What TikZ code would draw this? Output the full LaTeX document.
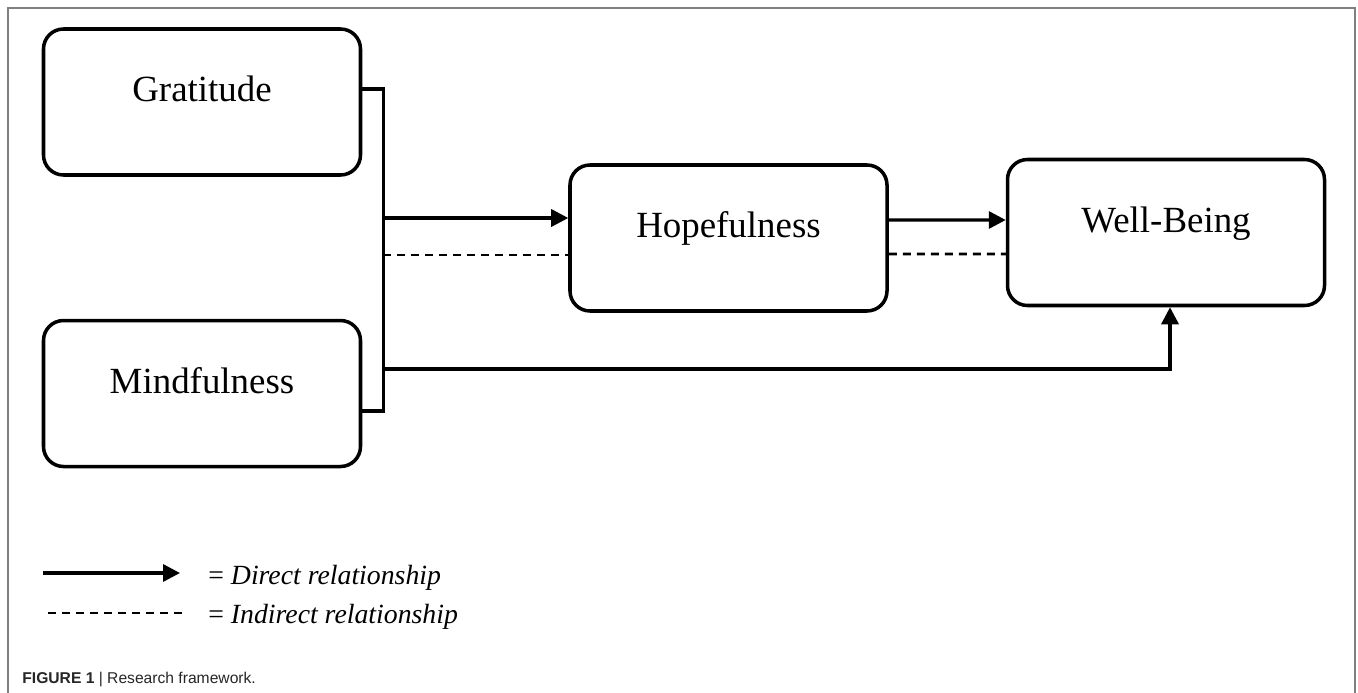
\documentclass[tikz,border=0pt]{standalone}
\usepackage{fontspec}
\setmainfont{Liberation Serif}
\newfontfamily\capfont{Liberation Sans}
\usetikzlibrary{positioning, arrows.meta}

\begin{document}
\begin{tikzpicture}[
    node distance=2.84cm,
    box/.style={draw, line width=2pt, rounded corners=0.4cm, minimum width=6.34cm, inner ysep=0pt,
      text height=1.46cm, text depth=1.46cm, font=\fontsize{21}{25}\selectfont},
    link/.style={line width=1.9pt},
    indirect/.style={line width=1.6pt, dash pattern=on 0.16cm off 0.12cm},
    legend/.style={inner sep=0pt, anchor=base west, font=\fontsize{15.8}{19}\selectfont},
    >={Triangle[length=0.34cm, width=0.34cm]}
  ]
    \useasboundingbox (0,0) rectangle (27.16,-13.86);
    % frame round the figure
    \draw[gray, line width=1.2pt] (0.16,-13.86) -- (0.16,-0.16) -- (27.1,-0.16) -- (27.1,-13.86);
    \node[box] (grat) at (4.04,-2.04) {Gratitude};
    \node[box, below=of grat] (mind) {Mindfulness};
    \node[box] (hope) at (14.57,-4.76) {Hopefulness};
    \node[box, right=2.34cm of hope, yshift=0.11cm] (well) {Well-Being};
    % bracket joining the two predictors
    \coordinate (bartop) at ([xshift=0.42cm, yshift=0.26cm]grat.east);
    \coordinate (barbot) at ([xshift=0.42cm, yshift=-0.35cm]mind.east);
    \coordinate (hopein) at ([yshift=0.4cm]hope.west);
    \coordinate (hopedash) at ([yshift=-0.34cm]hope.west);
    \coordinate (mindout) at ([yshift=0.49cm]mind.east);
    \draw[link] ([yshift=0.26cm]grat.east) -- (bartop) -- (barbot) -- ([yshift=-0.35cm]mind.east);
    \draw[link, ->] (hopein -| bartop) -- (hopein);
    \draw[indirect] (hopedash -| bartop) -- (hopedash);
    \draw[link, ->] ([yshift=0.36cm]hope.east) -- ([yshift=0.25cm]well.west);
    \draw[indirect] ([yshift=-0.32cm]hope.east) -- ([yshift=-0.43cm]well.west);
    \draw[link, ->] (mindout -| bartop) -| ([xshift=0.08cm]well.south);
    % legend
    \node[legend] (directtxt) at (4.16,-11.68) {= \textit{Direct relationship}};
    \node[legend] (indirecttxt) at (4.16,-12.46) {= \textit{Indirect relationship}};
    \coordinate (dirstart) at (0.86,-11.46);
    \coordinate (dirend) at (3.6,-11.46);
    \coordinate (indstart) at (0.96,-12.26);
    \coordinate (indend) at (3.66,-12.26);
    \draw[link, ->] (dirstart) -- (dirend);
    \draw[indirect] (indstart) -- (indend);
    \node[anchor=base west, inner sep=0pt, text=black!85, font=\capfont\fontsize{8.9}{10}\selectfont] (caption)
      at (0.44,-13.66) {\textbf{FIGURE 1} | Research framework.};
  \end{tikzpicture}
\end{document}
